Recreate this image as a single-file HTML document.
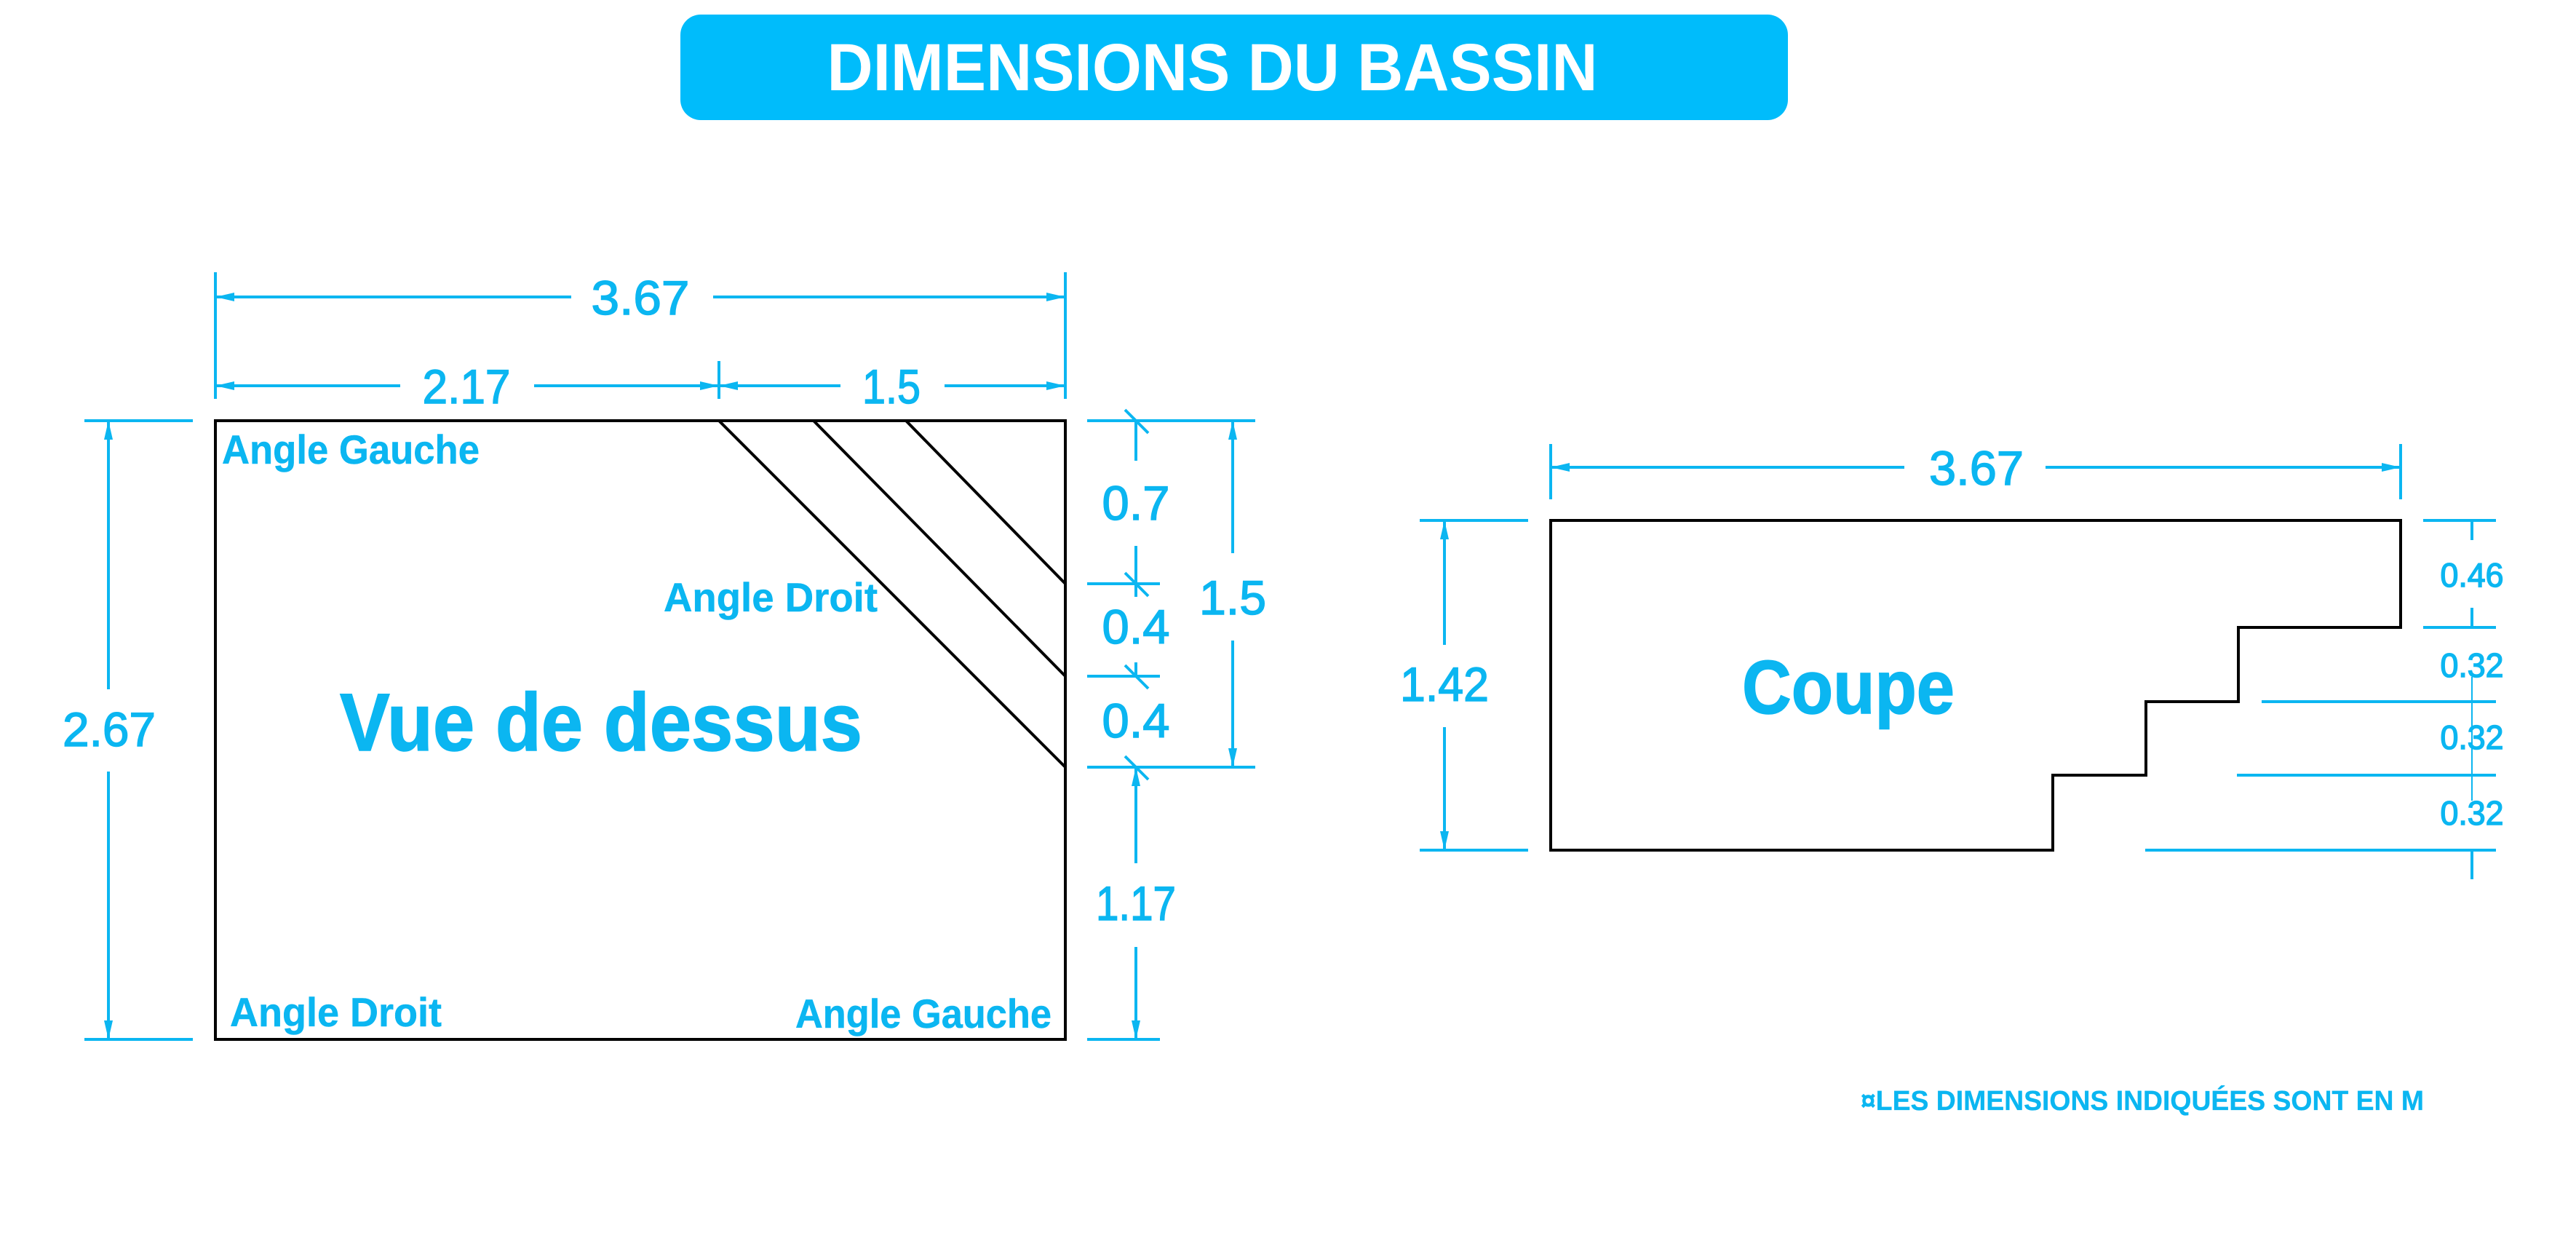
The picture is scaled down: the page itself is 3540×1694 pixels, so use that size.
<!DOCTYPE html>
<html><head><meta charset="utf-8"><style>
html,body{margin:0;padding:0;background:#fff;}
svg{display:block;}
.c{fill:#0bb6f1;font-family:"Liberation Sans",sans-serif;stroke:#0bb6f1;stroke-width:1.5;}
.d{font-size:66px;}
.l{font-size:56px;font-weight:bold;stroke-width:0.5;}
</style></head><body>
<svg width="3540" height="1694" viewBox="0 0 3540 1694" xmlns="http://www.w3.org/2000/svg">
<defs>
<marker id="a" markerUnits="userSpaceOnUse" markerWidth="26" markerHeight="12" refX="24" refY="6" orient="auto-start-reverse">
<path d="M0,0 L26,6 L0,12 z" fill="#0bb6f1"/></marker>
</defs>
<rect x="935" y="20" width="1522" height="145" rx="28" fill="#00bcfb"/>
<text x="1666" y="124" text-anchor="middle" font-family="Liberation Sans,sans-serif" font-weight="bold" font-size="92" fill="#fff" textLength="1059" lengthAdjust="spacingAndGlyphs">DIMENSIONS DU BASSIN</text>

<g stroke="#0bb6f1" stroke-width="4" fill="none">
<line x1="296" y1="374" x2="296" y2="548"/>
<line x1="1464" y1="374" x2="1464" y2="548"/>
<line x1="988" y1="496" x2="988" y2="548"/>
<line x1="298" y1="408" x2="785" y2="408" marker-start="url(#a)"/>
<line x1="980" y1="408" x2="1462" y2="408" marker-end="url(#a)"/>
<line x1="298" y1="530" x2="550" y2="530" marker-start="url(#a)"/>
<line x1="734" y1="530" x2="986" y2="530" marker-end="url(#a)"/>
<line x1="990" y1="530" x2="1155" y2="530" marker-start="url(#a)"/>
<line x1="1298" y1="530" x2="1462" y2="530" marker-end="url(#a)"/>
<line x1="116" y1="578" x2="265" y2="578"/>
<line x1="116" y1="1428" x2="265" y2="1428"/>
<line x1="149" y1="580" x2="149" y2="947" marker-start="url(#a)"/>
<line x1="149" y1="1060" x2="149" y2="1426" marker-end="url(#a)"/>
<line x1="1494" y1="578" x2="1725" y2="578"/>
<line x1="1494" y1="802" x2="1594" y2="802"/>
<line x1="1494" y1="929" x2="1594" y2="929"/>
<line x1="1494" y1="1054" x2="1725" y2="1054"/>
<line x1="1494" y1="1428" x2="1594" y2="1428"/>
<line x1="1561" y1="578" x2="1561" y2="633"/>
<line x1="1561" y1="750" x2="1561" y2="802"/>
<line x1="1561" y1="802" x2="1561" y2="820"/>
<line x1="1561" y1="910" x2="1561" y2="929"/>
<line x1="1561" y1="1056" x2="1561" y2="1186" marker-start="url(#a)"/>
<line x1="1561" y1="1301" x2="1561" y2="1426" marker-end="url(#a)"/>
<line x1="1546" y1="563" x2="1578" y2="595"/>
<line x1="1546" y1="787" x2="1578" y2="819"/>
<line x1="1546" y1="914" x2="1578" y2="946"/>
<line x1="1546" y1="1039" x2="1578" y2="1071"/>
<line x1="1694" y1="580" x2="1694" y2="760" marker-start="url(#a)"/>
<line x1="1694" y1="880" x2="1694" y2="1052" marker-end="url(#a)"/>

<line x1="2131" y1="610" x2="2131" y2="686"/>
<line x1="3299" y1="610" x2="3299" y2="686"/>
<line x1="2133" y1="642" x2="2617" y2="642" marker-start="url(#a)"/>
<line x1="2811" y1="642" x2="3297" y2="642" marker-end="url(#a)"/>
<line x1="1951" y1="715" x2="2100" y2="715"/>
<line x1="1951" y1="1168" x2="2100" y2="1168"/>
<line x1="1985" y1="717" x2="1985" y2="886" marker-start="url(#a)"/>
<line x1="1985" y1="999" x2="1985" y2="1166" marker-end="url(#a)"/>
<line x1="3330" y1="715" x2="3430" y2="715"/>
<line x1="3330" y1="862" x2="3430" y2="862"/>
<line x1="3108" y1="964" x2="3430" y2="964"/>
<line x1="3074" y1="1065" x2="3430" y2="1065"/>
<line x1="2948" y1="1168" x2="3430" y2="1168"/>
<line x1="3397" y1="715" x2="3397" y2="742"/>
<line x1="3397" y1="835" x2="3397" y2="862"/>
<line x1="3397" y1="930" x2="3397" y2="1100" stroke-width="2"/>
<line x1="3397" y1="1168" x2="3397" y2="1208"/>
</g>

<g stroke="#000" stroke-width="4" fill="none">
<rect x="296" y="578" width="1168" height="850"/>
<line x1="988" y1="578" x2="1464" y2="1054"/>
<line x1="1118" y1="578" x2="1464" y2="929"/>
<line x1="1245" y1="578" x2="1464" y2="802"/>
<path d="M2131,715 H3299 V862 H3076 V964 H2949 V1065 H2821 V1168 H2131 Z"/>
</g>

<g class="c">
<text class="d" x="880" y="432" text-anchor="middle" textLength="135" lengthAdjust="spacingAndGlyphs">3.67</text>
<text class="d" x="641" y="554" text-anchor="middle" textLength="121" lengthAdjust="spacingAndGlyphs">2.17</text>
<text class="d" x="1225" y="554" text-anchor="middle" textLength="80" lengthAdjust="spacingAndGlyphs">1.5</text>
<text class="d" x="150" y="1025" text-anchor="middle" textLength="128" lengthAdjust="spacingAndGlyphs">2.67</text>
<text class="d" x="1561" y="714" text-anchor="middle" textLength="93" lengthAdjust="spacingAndGlyphs">0.7</text>
<text class="d" x="1561" y="884" text-anchor="middle" textLength="93" lengthAdjust="spacingAndGlyphs">0.4</text>
<text class="d" x="1561" y="1013" text-anchor="middle" textLength="93" lengthAdjust="spacingAndGlyphs">0.4</text>
<text class="d" x="1694" y="844" text-anchor="middle" textLength="92" lengthAdjust="spacingAndGlyphs">1.5</text>
<text class="d" x="1561" y="1264" text-anchor="middle" textLength="110" lengthAdjust="spacingAndGlyphs">1.17</text>
<text class="l" x="305" y="637" textLength="354" lengthAdjust="spacingAndGlyphs">Angle Gauche</text>
<text class="l" x="912" y="840" textLength="294" lengthAdjust="spacingAndGlyphs">Angle Droit</text>
<text class="l" x="316" y="1410" textLength="291" lengthAdjust="spacingAndGlyphs">Angle Droit</text>
<text class="l" x="1093" y="1412" textLength="352" lengthAdjust="spacingAndGlyphs">Angle Gauche</text>
<text x="467" y="1031" font-size="112" font-weight="bold" textLength="718" lengthAdjust="spacingAndGlyphs">Vue de dessus</text>

<text class="d" x="2716" y="666" text-anchor="middle" textLength="130" lengthAdjust="spacingAndGlyphs">3.67</text>
<text class="d" x="1985" y="963" text-anchor="middle" textLength="122" lengthAdjust="spacingAndGlyphs">1.42</text>
<text x="2540" y="980" text-anchor="middle" font-size="104" font-weight="bold" textLength="292" lengthAdjust="spacingAndGlyphs">Coupe</text>
<text x="3397" y="806" text-anchor="middle" font-size="46" textLength="87" lengthAdjust="spacingAndGlyphs">0.46</text>
<text x="3397" y="930" text-anchor="middle" font-size="46" textLength="87" lengthAdjust="spacingAndGlyphs">0.32</text>
<text x="3397" y="1029" text-anchor="middle" font-size="46" textLength="87" lengthAdjust="spacingAndGlyphs">0.32</text>
<text x="3397" y="1133" text-anchor="middle" font-size="46" textLength="87" lengthAdjust="spacingAndGlyphs">0.32</text>
<text x="2557" y="1525" font-size="38" font-weight="bold" stroke-width="0.3" textLength="774" lengthAdjust="spacingAndGlyphs">¤LES DIMENSIONS INDIQUÉES SONT EN M</text>
</g>
</svg>
</body></html>
